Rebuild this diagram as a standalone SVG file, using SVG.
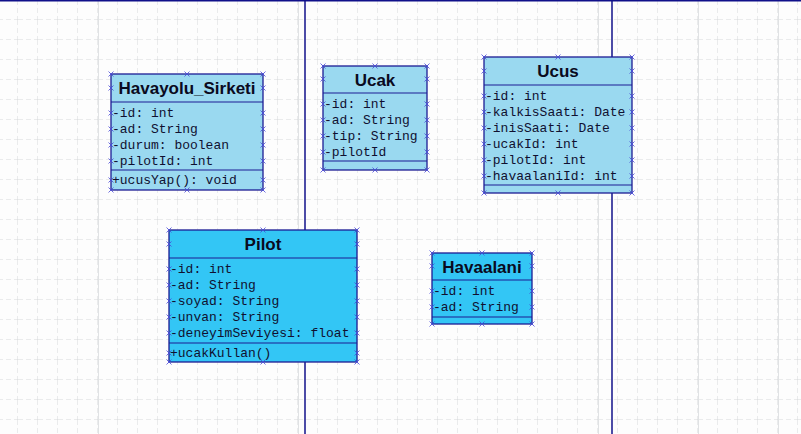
<svg xmlns="http://www.w3.org/2000/svg" xmlns:xlink="http://www.w3.org/1999/xlink" width="801" height="434" viewBox="0 0 801 434">
  <style>
    .minor { stroke: #d6d8da; stroke-width: 1; stroke-dasharray: 5 3; fill: none; }
    .major { stroke: #e0e2e4; stroke-width: 1; fill: none; }
    .lane { stroke: #10108a; stroke-width: 1.5; }
    .box { stroke: #1c1c94; stroke-width: 1.3; }
    .light { fill: #9ad9f0; }
    .deep { fill: #33c6f5; }
    .sep { stroke: #1c1c94; stroke-width: 1.2; }
    .title { font-family: "Liberation Sans", Arial, sans-serif; font-weight: bold; font-size: 17px; fill: #0a0a20; text-anchor: middle; }
    .attr { font-family: "Liberation Mono", "Courier New", monospace; font-size: 13px; fill: #101030; }
    .mk { stroke: #4848d8; stroke-width: 0.8; fill: none; }
  </style>
  <defs>
    <pattern id="grid" x="-2" y="0" width="20" height="20" patternUnits="userSpaceOnUse">
      <path d="M20,0 V20 M0,20 H20" class="minor"/>
    </pattern>
    <path id="x" d="M-2.5,-2.5 L2.5,2.5 M-2.5,2.5 L2.5,-2.5" class="mk"/>
  </defs>

  <g id="background">
    <rect x="0" y="0" width="801" height="434" fill="#fdfdfd"/>
    <rect x="0" y="0" width="801" height="434" fill="url(#grid)"/>
    <path class="major" d="M98.5,0 V434 M298.5,0 V434 M598.5,0 V434 M698.5,0 V434 M778.5,0 V434"/>
    <line x1="0" y1="0.75" x2="801" y2="0.75" class="lane"/>
    <line x1="305" y1="0" x2="305" y2="434" class="lane"/>
    <line x1="612" y1="0" x2="612" y2="434" class="lane"/>
  </g>

  <g id="connectors"></g>

  <g id="Havayolu_Sirketi">
    <rect x="111" y="74" width="152" height="116" class="box light"/>
    <line x1="111" y1="102" x2="263" y2="102" class="sep"/>
    <line x1="111" y1="170" x2="263" y2="170" class="sep"/>
    <text x="187" y="94" class="title">Havayolu_Sirketi</text>
    <text x="112" y="117" class="attr">-id: int</text>
    <text x="112" y="133" class="attr">-ad: String</text>
    <text x="112" y="149" class="attr">-durum: boolean</text>
    <text x="112" y="165" class="attr">-pilotId: int</text>
    <text x="112" y="184" class="attr">+ucusYap(): void</text>
    <g>
      <use xlink:href="#x" x="111" y="74"/><use xlink:href="#x" x="187" y="74"/><use xlink:href="#x" x="263" y="74"/>
      <use xlink:href="#x" x="111" y="190"/><use xlink:href="#x" x="187" y="190"/><use xlink:href="#x" x="263" y="190"/>
      <use xlink:href="#x" x="111" y="88"/><use xlink:href="#x" x="263" y="88"/>
      <use xlink:href="#x" x="111" y="113"/><use xlink:href="#x" x="263" y="113"/>
      <use xlink:href="#x" x="111" y="129"/><use xlink:href="#x" x="263" y="129"/>
      <use xlink:href="#x" x="111" y="145"/><use xlink:href="#x" x="263" y="145"/>
      <use xlink:href="#x" x="111" y="161"/><use xlink:href="#x" x="263" y="161"/>
      <use xlink:href="#x" x="111" y="180"/><use xlink:href="#x" x="263" y="180"/>
    </g>
  </g>

  <g id="Ucak">
    <rect x="323" y="66" width="104" height="104" class="box light"/>
    <line x1="323" y1="93" x2="427" y2="93" class="sep"/>
    <line x1="323" y1="161" x2="427" y2="161" class="sep"/>
    <text x="375" y="86" class="title">Ucak</text>
    <text x="324" y="108" class="attr">-id: int</text>
    <text x="324" y="124" class="attr">-ad: String</text>
    <text x="324" y="140" class="attr">-tip: String</text>
    <text x="324" y="156" class="attr">-pilotId</text>
    <g>
      <use xlink:href="#x" x="323" y="66"/><use xlink:href="#x" x="375" y="66"/><use xlink:href="#x" x="427" y="66"/>
      <use xlink:href="#x" x="323" y="170"/><use xlink:href="#x" x="375" y="170"/><use xlink:href="#x" x="427" y="170"/>
      <use xlink:href="#x" x="323" y="79"/><use xlink:href="#x" x="427" y="79"/>
      <use xlink:href="#x" x="323" y="104"/><use xlink:href="#x" x="427" y="104"/>
      <use xlink:href="#x" x="323" y="120"/><use xlink:href="#x" x="427" y="120"/>
      <use xlink:href="#x" x="323" y="136"/><use xlink:href="#x" x="427" y="136"/>
      <use xlink:href="#x" x="323" y="152"/><use xlink:href="#x" x="427" y="152"/>
    </g>
  </g>

  <g id="Ucus">
    <rect x="484" y="57" width="148" height="136" class="box light"/>
    <line x1="484" y1="85" x2="632" y2="85" class="sep"/>
    <line x1="484" y1="185" x2="632" y2="185" class="sep"/>
    <text x="558" y="77" class="title">Ucus</text>
    <text x="485" y="100" class="attr">-id: int</text>
    <text x="485" y="116" class="attr">-kalkisSaati: Date</text>
    <text x="485" y="132" class="attr">-inisSaati: Date</text>
    <text x="485" y="148" class="attr">-ucakId: int</text>
    <text x="485" y="164" class="attr">-pilotId: int</text>
    <text x="485" y="180" class="attr">-havaalaniId: int</text>
    <g>
      <use xlink:href="#x" x="484" y="57"/><use xlink:href="#x" x="558" y="57"/><use xlink:href="#x" x="632" y="57"/>
      <use xlink:href="#x" x="484" y="193"/><use xlink:href="#x" x="558" y="193"/><use xlink:href="#x" x="632" y="193"/>
      <use xlink:href="#x" x="484" y="71"/><use xlink:href="#x" x="632" y="71"/>
      <use xlink:href="#x" x="484" y="96"/><use xlink:href="#x" x="632" y="96"/>
      <use xlink:href="#x" x="484" y="112"/><use xlink:href="#x" x="632" y="112"/>
      <use xlink:href="#x" x="484" y="128"/><use xlink:href="#x" x="632" y="128"/>
      <use xlink:href="#x" x="484" y="144"/><use xlink:href="#x" x="632" y="144"/>
      <use xlink:href="#x" x="484" y="160"/><use xlink:href="#x" x="632" y="160"/>
      <use xlink:href="#x" x="484" y="176"/><use xlink:href="#x" x="632" y="176"/>
    </g>
  </g>

  <g id="Pilot">
    <rect x="169" y="230" width="188" height="132" class="box deep"/>
    <line x1="169" y1="258" x2="357" y2="258" class="sep"/>
    <line x1="169" y1="343" x2="357" y2="343" class="sep"/>
    <text x="263" y="250" class="title">Pilot</text>
    <text x="170" y="273" class="attr">-id: int</text>
    <text x="170" y="289" class="attr">-ad: String</text>
    <text x="170" y="305" class="attr">-soyad: String</text>
    <text x="170" y="321" class="attr">-unvan: String</text>
    <text x="170" y="337" class="attr">-deneyimSeviyesi: float</text>
    <text x="170" y="357" class="attr">+ucakKullan()</text>
    <g>
      <use xlink:href="#x" x="169" y="230"/><use xlink:href="#x" x="263" y="230"/><use xlink:href="#x" x="357" y="230"/>
      <use xlink:href="#x" x="169" y="362"/><use xlink:href="#x" x="263" y="362"/><use xlink:href="#x" x="357" y="362"/>
      <use xlink:href="#x" x="169" y="244"/><use xlink:href="#x" x="357" y="244"/>
      <use xlink:href="#x" x="169" y="269"/><use xlink:href="#x" x="357" y="269"/>
      <use xlink:href="#x" x="169" y="285"/><use xlink:href="#x" x="357" y="285"/>
      <use xlink:href="#x" x="169" y="301"/><use xlink:href="#x" x="357" y="301"/>
      <use xlink:href="#x" x="169" y="317"/><use xlink:href="#x" x="357" y="317"/>
      <use xlink:href="#x" x="169" y="333"/><use xlink:href="#x" x="357" y="333"/>
      <use xlink:href="#x" x="169" y="353"/><use xlink:href="#x" x="357" y="353"/>
    </g>
  </g>

  <g id="Havaalani">
    <rect x="432" y="253" width="100" height="71" class="box deep"/>
    <line x1="432" y1="280" x2="532" y2="280" class="sep"/>
    <line x1="432" y1="317" x2="532" y2="317" class="sep"/>
    <text x="482" y="273" class="title">Havaalani</text>
    <text x="433" y="295" class="attr">-id: int</text>
    <text x="433" y="311" class="attr">-ad: String</text>
    <g>
      <use xlink:href="#x" x="432" y="253"/><use xlink:href="#x" x="482" y="253"/><use xlink:href="#x" x="532" y="253"/>
      <use xlink:href="#x" x="432" y="324"/><use xlink:href="#x" x="482" y="324"/><use xlink:href="#x" x="532" y="324"/>
      <use xlink:href="#x" x="432" y="266"/><use xlink:href="#x" x="532" y="266"/>
      <use xlink:href="#x" x="432" y="291"/><use xlink:href="#x" x="532" y="291"/>
      <use xlink:href="#x" x="432" y="307"/><use xlink:href="#x" x="532" y="307"/>
    </g>
  </g>
</svg>
